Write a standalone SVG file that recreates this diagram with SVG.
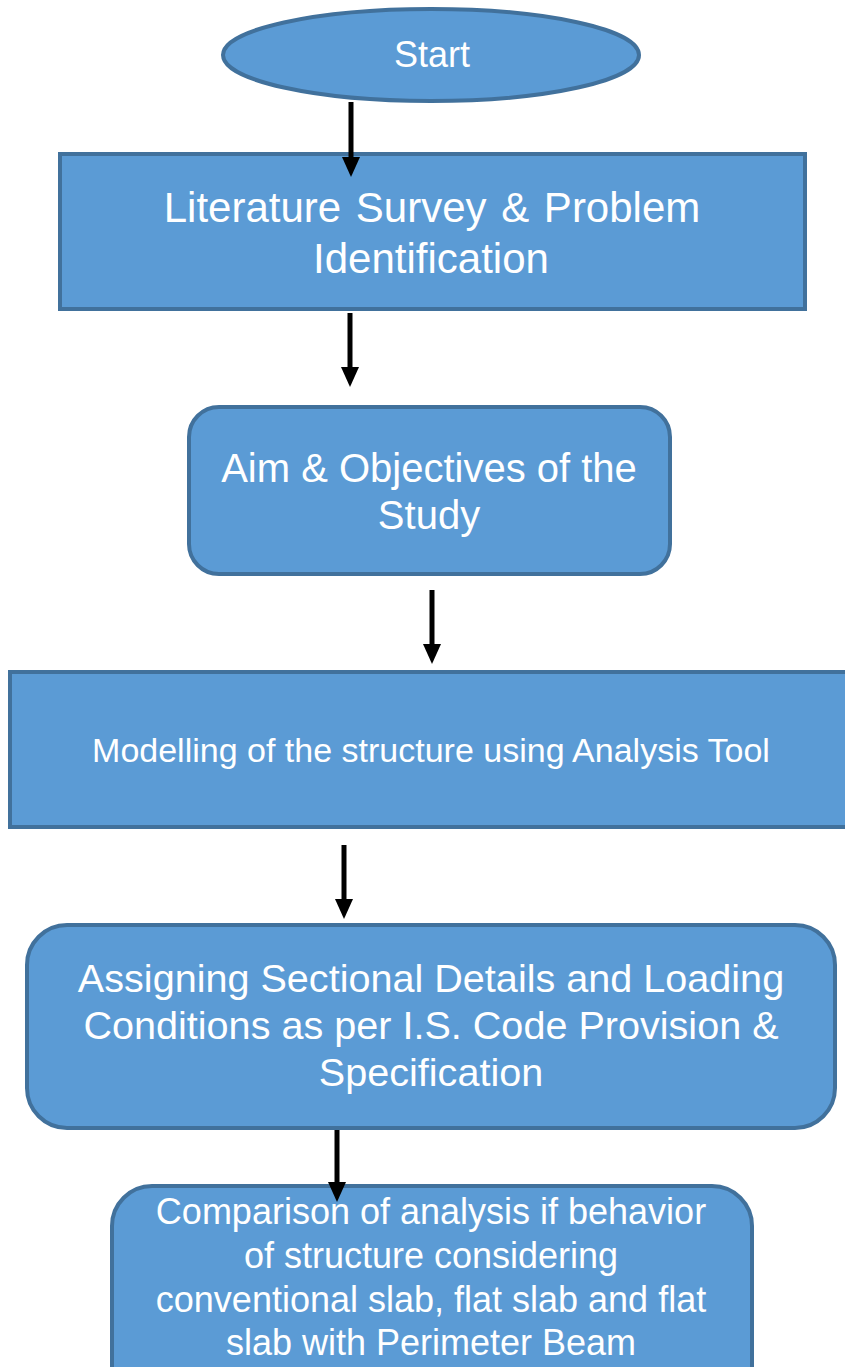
<svg xmlns="http://www.w3.org/2000/svg" width="845" height="1367" viewBox="0 0 845 1367">
<style>
.shape{fill:#5B9BD5;stroke:#41719C;stroke-width:4}
.t{fill:#FFFFFF;font-family:"Liberation Sans",Arial,sans-serif;text-anchor:middle}
.c{stroke:#000000;stroke-width:5;fill:none;marker-end:url(#ah)}
</style>
<defs>
<marker id="ah" markerUnits="userSpaceOnUse" markerWidth="20" markerHeight="18" viewBox="0 0 20 18" refX="2" refY="9" orient="auto">
<path d="M0,0 L20,9 L0,18 z" fill="#000000"/>
</marker>
</defs>
<rect width="845" height="1367" fill="#FFFFFF"/>
<g id="start">
<ellipse class="shape" cx="431" cy="55" rx="208" ry="46" stroke-width="3"/>
<text class="t" x="432" y="67" font-size="36">Start</text>
</g>
<g id="literature">
<rect class="shape" x="60" y="154" width="745" height="155"/>
<text class="t" x="432" y="222" font-size="42" word-spacing="3">Literature Survey &amp; Problem</text>
<text class="t" x="431" y="273" font-size="42">Identification</text>
</g>
<g id="aim">
<rect class="shape" x="189" y="407" width="481" height="167" rx="30"/>
<text class="t" x="429" y="482" font-size="40">Aim &amp; Objectives of the</text>
<text class="t" x="429" y="529" font-size="40">Study</text>
</g>
<g id="modelling">
<rect class="shape" x="10" y="672" width="860" height="155"/>
<text class="t" x="431" y="762" font-size="34">Modelling of the structure using Analysis Tool</text>
</g>
<g id="assigning">
<rect class="shape" x="27" y="925" width="808" height="203" rx="40"/>
<text class="t" x="431" y="992" font-size="39.6">Assigning Sectional Details and Loading</text>
<text class="t" x="431" y="1039" font-size="39.6">Conditions as per I.S. Code Provision &amp;</text>
<text class="t" x="431" y="1086" font-size="39.6">Specification</text>
</g>
<g id="comparison">
<rect class="shape" x="112" y="1186" width="640" height="230" rx="40"/>
<text class="t" x="431" y="1224" font-size="36">Comparison of analysis if behavior</text>
<text class="t" x="431" y="1268" font-size="36">of structure considering</text>
<text class="t" x="431" y="1312" font-size="36">conventional slab, flat slab and flat</text>
<text class="t" x="431" y="1355" font-size="36">slab with Perimeter Beam</text>
</g>
<g id="connectors">
<line class="c" x1="351" y1="102" x2="351" y2="159"/>
<line class="c" x1="350" y1="313" x2="350" y2="369"/>
<line class="c" x1="432" y1="590" x2="432" y2="646"/>
<line class="c" x1="344" y1="845" x2="344" y2="901"/>
<line class="c" x1="337" y1="1130" x2="337" y2="1184"/>
</g>
</svg>
